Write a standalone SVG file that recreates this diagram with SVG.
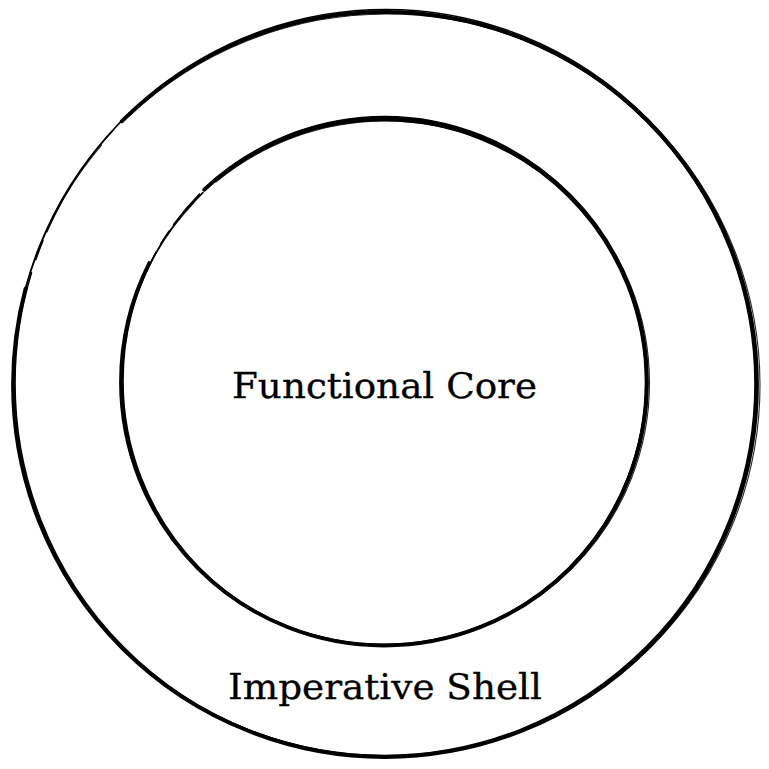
<svg xmlns="http://www.w3.org/2000/svg" width="769" height="769" viewBox="0 0 769 769">
<style>
.bg{fill:#ffffff}
.s{fill:none;stroke:#000;stroke-linecap:round}
.m{stroke-width:3.8}
.t{stroke-width:1.6}
.f{stroke-width:1.1;stroke-opacity:0.85}
.lbl{font-family:"DejaVu Serif","Liberation Serif",serif;font-size:36px;fill:#000;text-anchor:middle;stroke:#000;stroke-width:0.3}
</style>
<rect class="bg" x="0" y="0" width="769" height="769"/>
<g id="shell">
  <ellipse class="s m" cx="385" cy="384.5" rx="372" ry="372.5" stroke-dasharray="1266 195 900"/>
  <ellipse class="s t" cx="384" cy="384" rx="371" ry="371.5" stroke-dasharray="1445 28 900"/>
  <ellipse class="s f" cx="386.5" cy="385" rx="373.5" ry="371" stroke-dasharray="1430 40 900"/>
  <ellipse class="s t" cx="385.5" cy="383" rx="370.5" ry="373.5" stroke-dasharray="1280 14 20 10 150 30 900"/>
  <text class="lbl" x="385" y="699" textLength="314" lengthAdjust="spacingAndGlyphs">Imperative Shell</text>
</g>
<g id="core">
  <ellipse class="s m" cx="384" cy="382" rx="263" ry="263.5" stroke-dasharray="950 92 700"/>
  <ellipse class="s t" cx="383.5" cy="382.5" rx="262" ry="262" stroke-dasharray="1035 20 700"/>
  <ellipse class="s f" cx="385.5" cy="383" rx="264" ry="262" stroke-dasharray="1025 30 700"/>
  <ellipse class="s t" cx="384.5" cy="381" rx="261.5" ry="264.5" stroke-dasharray="960 10 15 8 40 25 700"/>
  <text class="lbl" x="384.5" y="398" textLength="305" lengthAdjust="spacingAndGlyphs">Functional Core</text>
</g>
</svg>
